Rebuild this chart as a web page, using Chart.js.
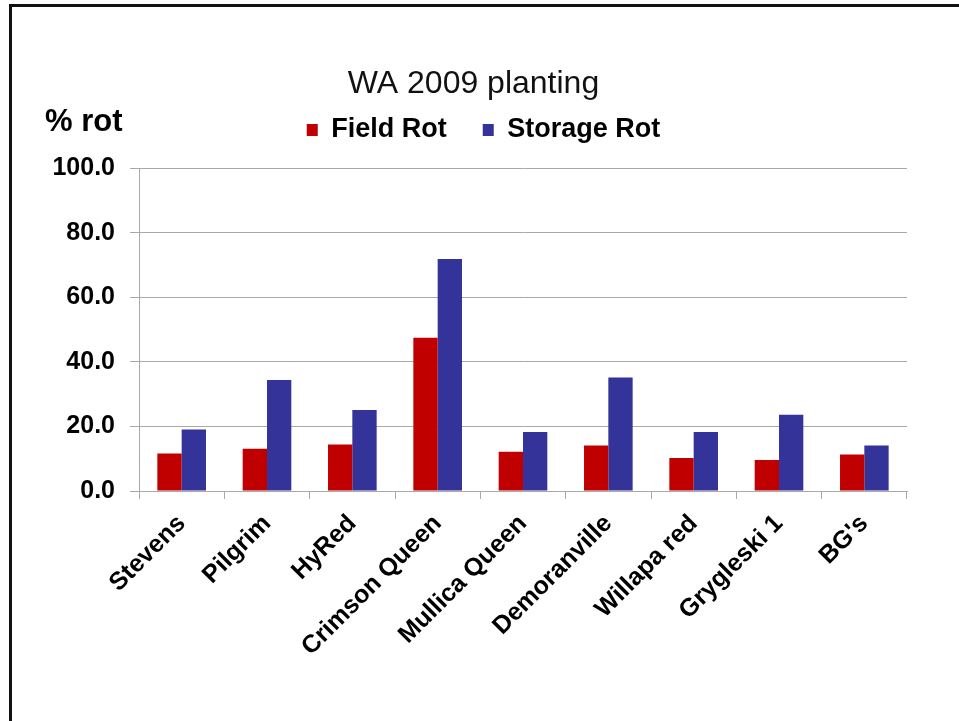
<!DOCTYPE html>
<html>
<head>
<meta charset="UTF-8">
<title>WA 2009 planting</title>
<script src="https://cdn.jsdelivr.net/npm/chart.js@4.4.4/dist/chart.umd.min.js"></script>
<style>
  html, body { margin: 0; padding: 0; background: #fff; overflow: hidden; }
  .wrap { position: absolute; left: 0; top: 0; width: 959px; height: 721px; }
  .frame { position: absolute; left: 9px; top: 4px; width: 990px; height: 760px;
           border-left: 3px solid #111; border-top: 3px solid #111; }
</style>
</head>
<body>
<div class="wrap"><canvas id="rotChart"></canvas></div>
<div class="frame"></div>

<script>
  const varieties = ['Stevens', 'Pilgrim', 'HyRed', 'Crimson Queen', 'Mullica Queen',
                     'Demoranville', 'Willapa red', 'Grygleski 1', "BG's"];
  const fieldRot   = [11.6, 13.1, 14.4, 47.5, 12.2, 14.1, 10.2, 9.6, 11.3];
  const storageRot = [19.1, 34.4, 25.1, 71.9, 18.3, 35.2, 18.3, 23.6, 14.1];
  const yTicks = [0, 20, 40, 60, 80, 100];

  const FONT = '"Liberation Sans", Arial, Helvetica, sans-serif';
  const GRID = '#a9a9a9';
  Chart.defaults.font.family = FONT;

  // extra room under the legend row, and nudge the legend a little right
  const legendTweak = {
    id: 'legendTweak',
    beforeInit(chart) {
      const legend = chart.legend;
      const fit = legend.fit;
      const draw = legend.draw;
      legend.fit = function () {
        fit.call(this);
        this.height += 15;
      };
      legend.draw = function () {
        this.ctx.save();
        this.ctx.translate(10, 0);
        draw.call(this);
        this.ctx.restore();
      };
    }
  };

  // "% rot" unit label, top left of the value axis
  const axisUnit = {
    id: 'axisUnit',
    afterDraw(chart) {
      const {ctx, chartArea} = chart;
      ctx.save();
      ctx.font = 'bold 31px ' + FONT;
      ctx.fillStyle = '#000';
      ctx.textBaseline = 'middle';
      ctx.fillText('% rot', chartArea.left - 94, chartArea.top - 46);
      ctx.restore();
    }
  };

  new Chart(document.getElementById('rotChart'), {
    type: 'bar',
    data: {
      labels: varieties,
      datasets: [
        { label: 'Field Rot', data: fieldRot, backgroundColor: '#c00000',
          categoryPercentage: 0.57, barPercentage: 1 },
        { label: 'Storage Rot', data: storageRot, backgroundColor: '#333399',
          categoryPercentage: 0.57, barPercentage: 1 }
      ]
    },
    options: {
      responsive: true,
      maintainAspectRatio: false,
      animation: false,
      layout: { padding: { top: 55, left: 40, right: 52, bottom: 60 } },
      plugins: {
        title: {
          display: true,
          text: 'WA 2009 planting',
          color: '#111',
          font: { size: 32, weight: 'normal' },
          padding: { top: 10, bottom: -23 }
        },
        legend: {
          position: 'top',
          labels: {
            boxWidth: 11,
            boxHeight: 12,
            padding: 36,
            color: '#000',
            font: { size: 27, weight: 'bold' }
          }
        },
        tooltip: { enabled: false }
      },
      scales: {
        x: {
          grid: { drawOnChartArea: false, color: GRID, tickLength: 8, offset: true },
          border: { color: GRID },
          ticks: {
            color: '#000',
            font: { size: 25, weight: 'bold' },
            minRotation: 45,
            maxRotation: 45,
            autoSkip: false,
            padding: 10
          },
          afterFit: s => { s.height = 170; }
        },
        y: {
          min: 0,
          max: 100,
          grid: { color: GRID, tickLength: 9 },
          border: { color: GRID },
          ticks: {
            color: '#000',
            font: { size: 25, weight: 'bold' },
            padding: 15,
            callback: v => v.toFixed(1)
          },
          afterBuildTicks: s => { s.ticks = yTicks.map(v => ({ value: v })); },
          afterFit: s => { s.width = 99; }
        }
      }
    },
    plugins: [legendTweak, axisUnit]
  });
</script>
</body>
</html>
